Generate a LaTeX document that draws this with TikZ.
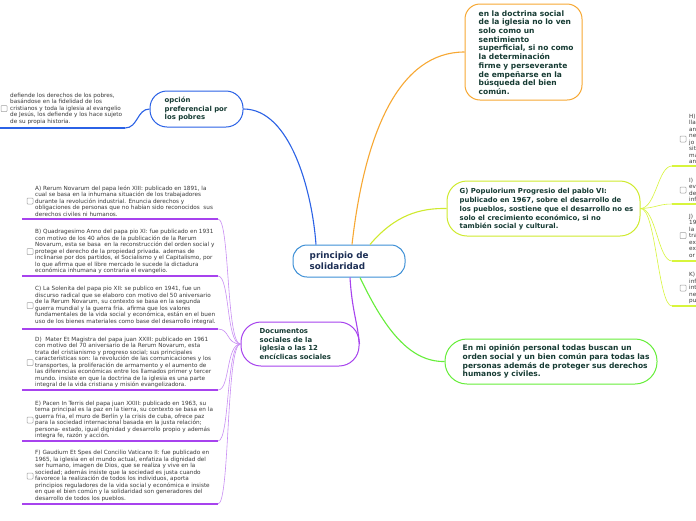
\documentclass[tikz,border=0pt]{standalone}
\usepackage{fontspec}
\setmainfont{DejaVu Sans}
\definecolor{cblue}{HTML}{3D8FD6}
\definecolor{obblue}{HTML}{2B62E6}
\definecolor{orng}{HTML}{F7A833}
\definecolor{ygreen}{HTML}{CFEA2E}
\definecolor{lgreen}{HTML}{D8F53C}
\definecolor{grn}{HTML}{66EE3A}
\definecolor{purp}{HTML}{A743EE}
\definecolor{lpurp}{HTML}{C98EF4}
\definecolor{tcol}{HTML}{163B33}
\definecolor{navy}{HTML}{1D2F55}
\definecolor{scol}{HTML}{3A3A3A}
\tikzset{
  box/.style={draw, fill=white, line width=1pt, inner sep=0pt},
  btext/.style={anchor=west, inner sep=0pt, align=left, text=tcol, font=\bfseries\fontsize{6.9}{8.7}\selectfont},
  bigtext/.style={btext, font=\bfseries\fontsize{7.5}{8.7}\selectfont},
  small/.style={anchor=west, inner sep=0pt, align=left, text=scol, font=\fontsize{5.7}{6.5}\selectfont},
  chk/.style={draw=gray!75, line width=0.5pt, minimum size=6pt, inner sep=0pt, rounded corners=0.8pt},
  link/.style={line width=1.1pt},
  uline/.style={line width=2pt},
}
\begin{document}
\begin{tikzpicture}[x=1pt,y=-1pt]
\useasboundingbox (0,0) rectangle (696,520);
\fill[white] (0,0) rectangle (696,520);

% ---------- main boxes ----------
\node[box, draw=cblue, rounded corners=14pt, minimum width=112pt, minimum height=32pt] (c) at (349,261) {};
\node[btext, text=navy, font=\bfseries\fontsize{8.8}{11}\selectfont] (ct) at ([xshift=17pt]c.west) {principio de\\solidaridad};

\node[box, draw=obblue, rounded corners=17pt, minimum width=93pt, minimum height=36pt] (o) at (196.5,109) {};
\node[btext] (ot) at ([xshift=15pt]o.west) {opción\\preferencial por\\los pobres};

\node[box, draw=orng, rounded corners=15pt, minimum width=117pt, minimum height=96pt] (r) at (523.5,52) {};
\node[bigtext] (rt) at ([xshift=14pt,yshift=-0.5pt]r.west) {en la doctrina social\\de la iglesia no lo ven\\solo como un\\sentimiento\\superficial, si no como\\la determinación\\firme y perseverante\\de empeñarse en la\\búsqueda del bien\\común.};

\node[box, draw=ygreen, rounded corners=20pt, minimum width=193pt, minimum height=55pt] (g) at (543.5,208.5) {};
\node[btext] (gt) at ([xshift=13pt,yshift=-1pt]g.west) {G) Populorium Progresio del pablo VI:\\publicado en 1967, sobre el desarrollo de\\los pueblos, sostiene que el desarrollo no es\\solo el crecimiento económico, si no\\también social y cultural.};

\node[box, draw=grn, rounded corners=22pt, minimum width=212pt, minimum height=45pt] (e) at (551,361.5) {};
\node[bigtext] (et) at ([xshift=18pt]e.west) {En mi opinión personal todas buscan un\\orden social y un bien común para todas las\\personas además de proteger sus derechos\\humanos y civiles.};

\node[box, draw=purp, rounded corners=20pt, minimum width=118pt, minimum height=44pt] (d) at (300,344) {};
\node[btext] (dt) at ([xshift=19pt]d.west) {Documentos\\sociales de la\\iglesia o las 12\\encíclicas sociales};

% ---------- central connectors ----------
\draw[link, obblue] ([xshift=-33pt]c.north) .. controls (312,190) and (290,109) .. (o.east);
\draw[link, orng] ([xshift=3pt]c.north) .. controls (365,130) and (400,52) .. (r.west);
\draw[link, ygreen] ([xshift=21pt]c.north) .. controls (395,215) and (420,208) .. (g.west);
\draw[link, grn] ([xshift=11pt]c.south) .. controls (385,330) and (410,362) .. (e.west);
\draw[link, purp] ([xshift=1pt]c.south) .. controls (352,310) and (357,320) .. (d.east);

% ---------- opción branch ----------
\coordinate (p0) at (0,128);
\coordinate (p1) at (125,128);
\draw[uline, obblue] (p0) -- (p1);
\draw[link, obblue] (o.west) .. controls (137,109) and (138,128) .. (p1);
\node[chk] (pk) at (4,108.5) {};
\node[small] (pt) at (10,108.5) {defiende los derechos de los pobres,\\basándose en la fidelidad de los\\cristianos y toda la iglesia al evangelio\\de Jesús, los defiende y los hace sujeto\\de su propia historia.};

% ---------- documentos branch ----------
\foreach \n/\ym/\yu in {a/201/219, b/251.5/276, c/305.5/329, d/362.5/390, e/420/441, f/476/504}{
  \coordinate (\n0) at (22,\yu);
  \coordinate (\n1) at (218,\yu);
  \draw[uline, purp] (\n0) -- (\n1);
  \draw[line width=0.6pt, lpurp] (d.west) .. controls (226,344) and (230,\yu) .. (\n1);
  \node[chk] (\n k) at (30,\ym) {};
}
\node[small] (at) at (35,201) {A) Rerum Novarum del papa león XIII: publicado en 1891, la\\cual se basa en la inhumana situación de los trabajadores\\durante la revolución industrial. Enuncia derechos y\\obligaciones de personas que no habían sido reconocidos\ \ sus\\derechos civiles ni humanos.};
\node[small] (bt) at (35,251.5) {B) Quadragesimo Anno del papa pio XI: fue publicado en 1931\\con motivo de los 40 años de la publicación de la Rerum\\Novarum, esta se basa\ \ en la reconstrucción del orden social y\\protege el derecho de la propiedad privada. ademas de\\inclinarse por dos partidos, el Socialismo y el Capitalismo, por\\lo que afirma que el libre mercado le sucede la dictadura\\económica inhumana y contraria el evangelio.};
\node[small] (ctt) at (35,305.5) {C) La Solenita del papa pio XII: se publico en 1941, fue un\\discurso radical que se elaboro con motivo del 50 aniversario\\de la Rerum Novarum, su contexto se basa en la segunda\\guerra mundial y la guerra fria. afirma que los valores\\fundamentales de la vida social y económica, están en el buen\\uso de los bienes materiales como base del desarrollo integral.};
\node[small] (dtt) at (35,362.5) {D)\ \ Mater Et Magistra del papa juan XXIII: publicado en 1961\\con motivo del 70 aniversario de la Rerum Novarum, esta\\trata del cristianismo y progreso social; sus principales\\características son: la revolución de las comunicaciones y los\\transportes, la proliferación de armamento y el aumento de\\las diferencias económicas entre los llamados primer y tercer\\mundo. insiste en que la doctrina de la iglesia es una parte\\integral de la vida cristiana y misión evangelizadora.};
\node[small] (ett) at (35,420) {E) Pacen In Terris del papa juan XXIII: publicado en 1963, su\\tema principal es la paz en la tierra, su contexto se basa en la\\guerra fria, el muro de Berlín y la crisis de cuba, ofrece paz\\para la sociedad internacional basada en la justa relación;\\persona- estado, igual dignidad y desarrollo propio y además\\integra fe, razón y acción.};
\node[small] (ftt) at (35,476) {F) Gaudium Et Spes del Concilio Vaticano II: fue publicado en\\1965, la iglesia en el mundo actual, enfatiza la dignidad del\\ser humano, imagen de Dios, que se realiza y vive en la\\sociedad; además insiste que la sociedad es justa cuando\\favorece la realización de todos los individuos, aporta\\principios reguladores de la vida social y económica e insiste\\en que el bien común y la solidaridad son generadores del\\desarrollo de todos los pueblos.};

% ---------- G branch (cut at right edge) ----------
\foreach \n/\ym/\yu in {h/139/166, i/190/204, j/235.5/261, k/288/306}{
  \coordinate (\n0) at (672,\yu);
  \coordinate (\n1) at (700,\yu);
  \draw[uline, lgreen] (\n0) -- (\n1);
  \draw[line width=0.6pt, lgreen] (g.east) .. controls (656,208) and (658,\yu) .. (\n0);
  \node[chk] (\n k) at (683,\ym) {};
}
\node[small] (ht) at (689,139) {H)\\lla\\an\\ne\\jo\\sit\\ma\\an};
\node[small] (it) at (689,190) {I)\\ev\\de\\inf};
\node[small] (jt) at (689,235.5) {J)\\19\\la\\tra\\ex\\ex\\or};
\node[small] (kt) at (689,288) {K)\\inf\\int\\ne\\pu};
\end{tikzpicture}
\end{document}
